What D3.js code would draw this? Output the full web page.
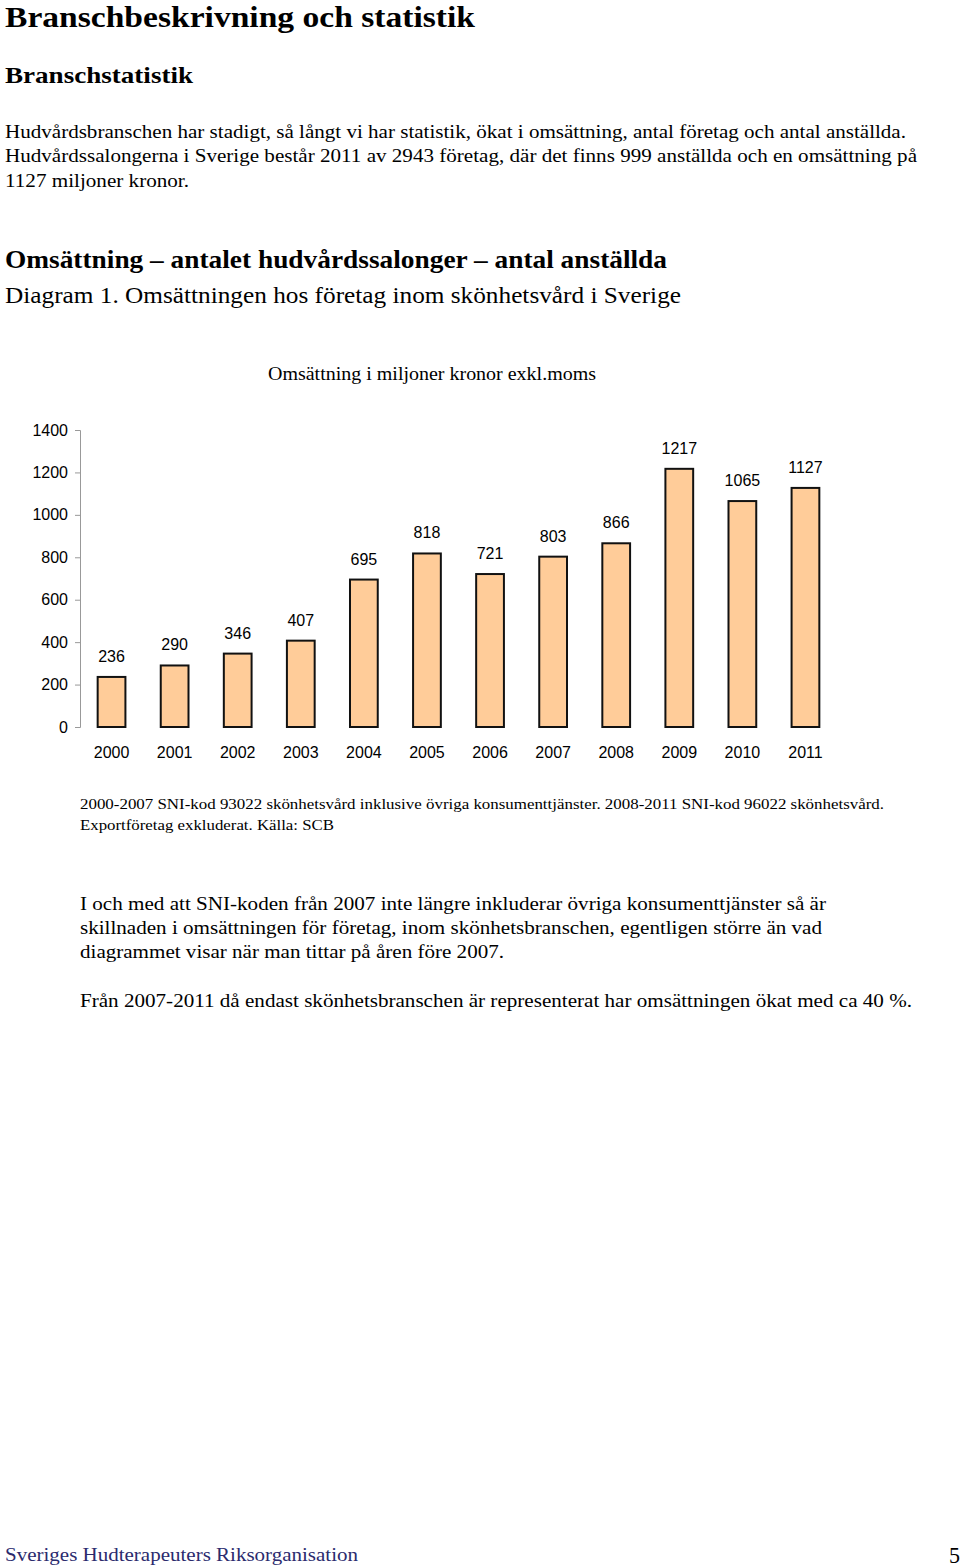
<!DOCTYPE html>
<html><head><meta charset="utf-8">
<script src="https://cdn.jsdelivr.net/npm/d3@7"></script>
<style>
html,body{margin:0;padding:0;background:#fff;}
svg{display:block;}
.serif text{font-family:"Liberation Serif","Times New Roman",Times,serif;}
.sans text{font-family:"Liberation Sans",Arial,Helvetica,sans-serif;}
</style></head>
<body>
<script>
const years = ["2000","2001","2002","2003","2004","2005","2006","2007","2008","2009","2010","2011"];
const revenue = [236,290,346,407,695,818,721,803,866,1217,1065,1127];
const yTicks = [0,200,400,600,800,1000,1200,1400];

const W=960,H=1567;
const svg=d3.select("body").append("svg").attr("width",W).attr("height",H);

// text blocks: [text, x, baseline y, size, weight, width, color]
const texts=[
 ["Branschbeskrivning och statistik",5,27,29,"bold",470,"#000"],
 ["Branschstatistik",5,83,24,"bold",188,"#000"],
 ["Hudvårdsbranschen har stadigt, så långt vi har statistik, ökat i omsättning, antal företag och antal anställda.",5,138,18.5,"normal",901,"#000"],
 ["Hudvårdssalongerna i Sverige består 2011 av 2943 företag, där det finns 999 anställda och en omsättning på",5,162,18.5,"normal",912,"#000"],
 ["1127 miljoner kronor.",5,187,18.5,"normal",184,"#000"],
 ["Omsättning – antalet hudvårdssalonger – antal anställda",5,268,26,"bold",662,"#000"],
 ["Diagram 1. Omsättningen hos företag inom skönhetsvård i Sverige",5,303,24,"normal",676,"#000"],
 ["Omsättning i miljoner kronor exkl.moms",268,380,19,"normal",328,"#000"],
 ["2000-2007 SNI-kod 93022 skönhetsvård inklusive övriga konsumenttjänster. 2008-2011 SNI-kod 96022 skönhetsvård.",80,809,15.5,"normal",804,"#000"],
 ["Exportföretag exkluderat. Källa: SCB",80,830,15.5,"normal",254,"#000"],
 ["I och med att SNI-koden från 2007 inte längre inkluderar övriga konsumenttjänster så är",80,910,19,"normal",746,"#000"],
 ["skillnaden i omsättningen för företag, inom skönhetsbranschen, egentligen större än vad",80,934,19,"normal",742,"#000"],
 ["diagrammet visar när man tittar på åren före 2007.",80,958,19,"normal",424,"#000"],
 ["Från 2007-2011 då endast skönhetsbranschen är representerat har omsättningen ökat med ca 40 %.",80,1007,19,"normal",832,"#000"],
 ["Sveriges Hudterapeuters Riksorganisation",5,1561,19.5,"normal",353,"#2b2b6e"],
 ["5",949,1563,24,"normal",11,"#000"]
];
svg.append("g").attr("class","serif").selectAll("text").data(texts).join("text")
 .attr("x",d=>d[1]).attr("y",d=>d[2]).attr("font-size",d=>d[3]).attr("font-weight",d=>d[4])
 .attr("fill",d=>d[6]).attr("textLength",d=>d[5]).attr("lengthAdjust","spacingAndGlyphs")
 .text(d=>d[0]);

// chart
const x=d3.scaleBand().domain(years).range([80,837]).paddingInner(0.56).paddingOuter(0.28);
const y=d3.scaleLinear().domain([0,1400]).range([727,430]);

const g=svg.append("g").attr("class","sans");
const yAxis=g.append("g").attr("transform","translate(80,0)")
 .call(d3.axisLeft(y).tickValues(yTicks).tickSize(5).tickPadding(7).tickFormat(d3.format("d")));
yAxis.attr("font-family",null);
yAxis.select(".domain").attr("stroke","#999");
yAxis.selectAll(".tick line").attr("stroke","#999");
yAxis.selectAll("text").attr("font-size",16).attr("fill","#000");

g.selectAll("rect.bar").data(revenue).join("rect").attr("class","bar")
 .attr("x",(d,i)=>x(years[i])).attr("width",x.bandwidth())
 .attr("y",d=>y(d)).attr("height",d=>y(0)-y(d))
 .attr("fill","#FFCC99").attr("stroke","#111").attr("stroke-width",2);

g.selectAll("text.val").data(revenue).join("text").attr("class","val")
 .attr("x",(d,i)=>x(years[i])+x.bandwidth()/2).attr("y",d=>y(d)-15)
 .attr("text-anchor","middle").attr("font-size",16).text(d=>d);

g.selectAll("text.yr").data(years).join("text").attr("class","yr")
 .attr("x",d=>x(d)+x.bandwidth()/2).attr("y",758)
 .attr("text-anchor","middle").attr("font-size",16).text(d=>d);
</script>
</body></html>
